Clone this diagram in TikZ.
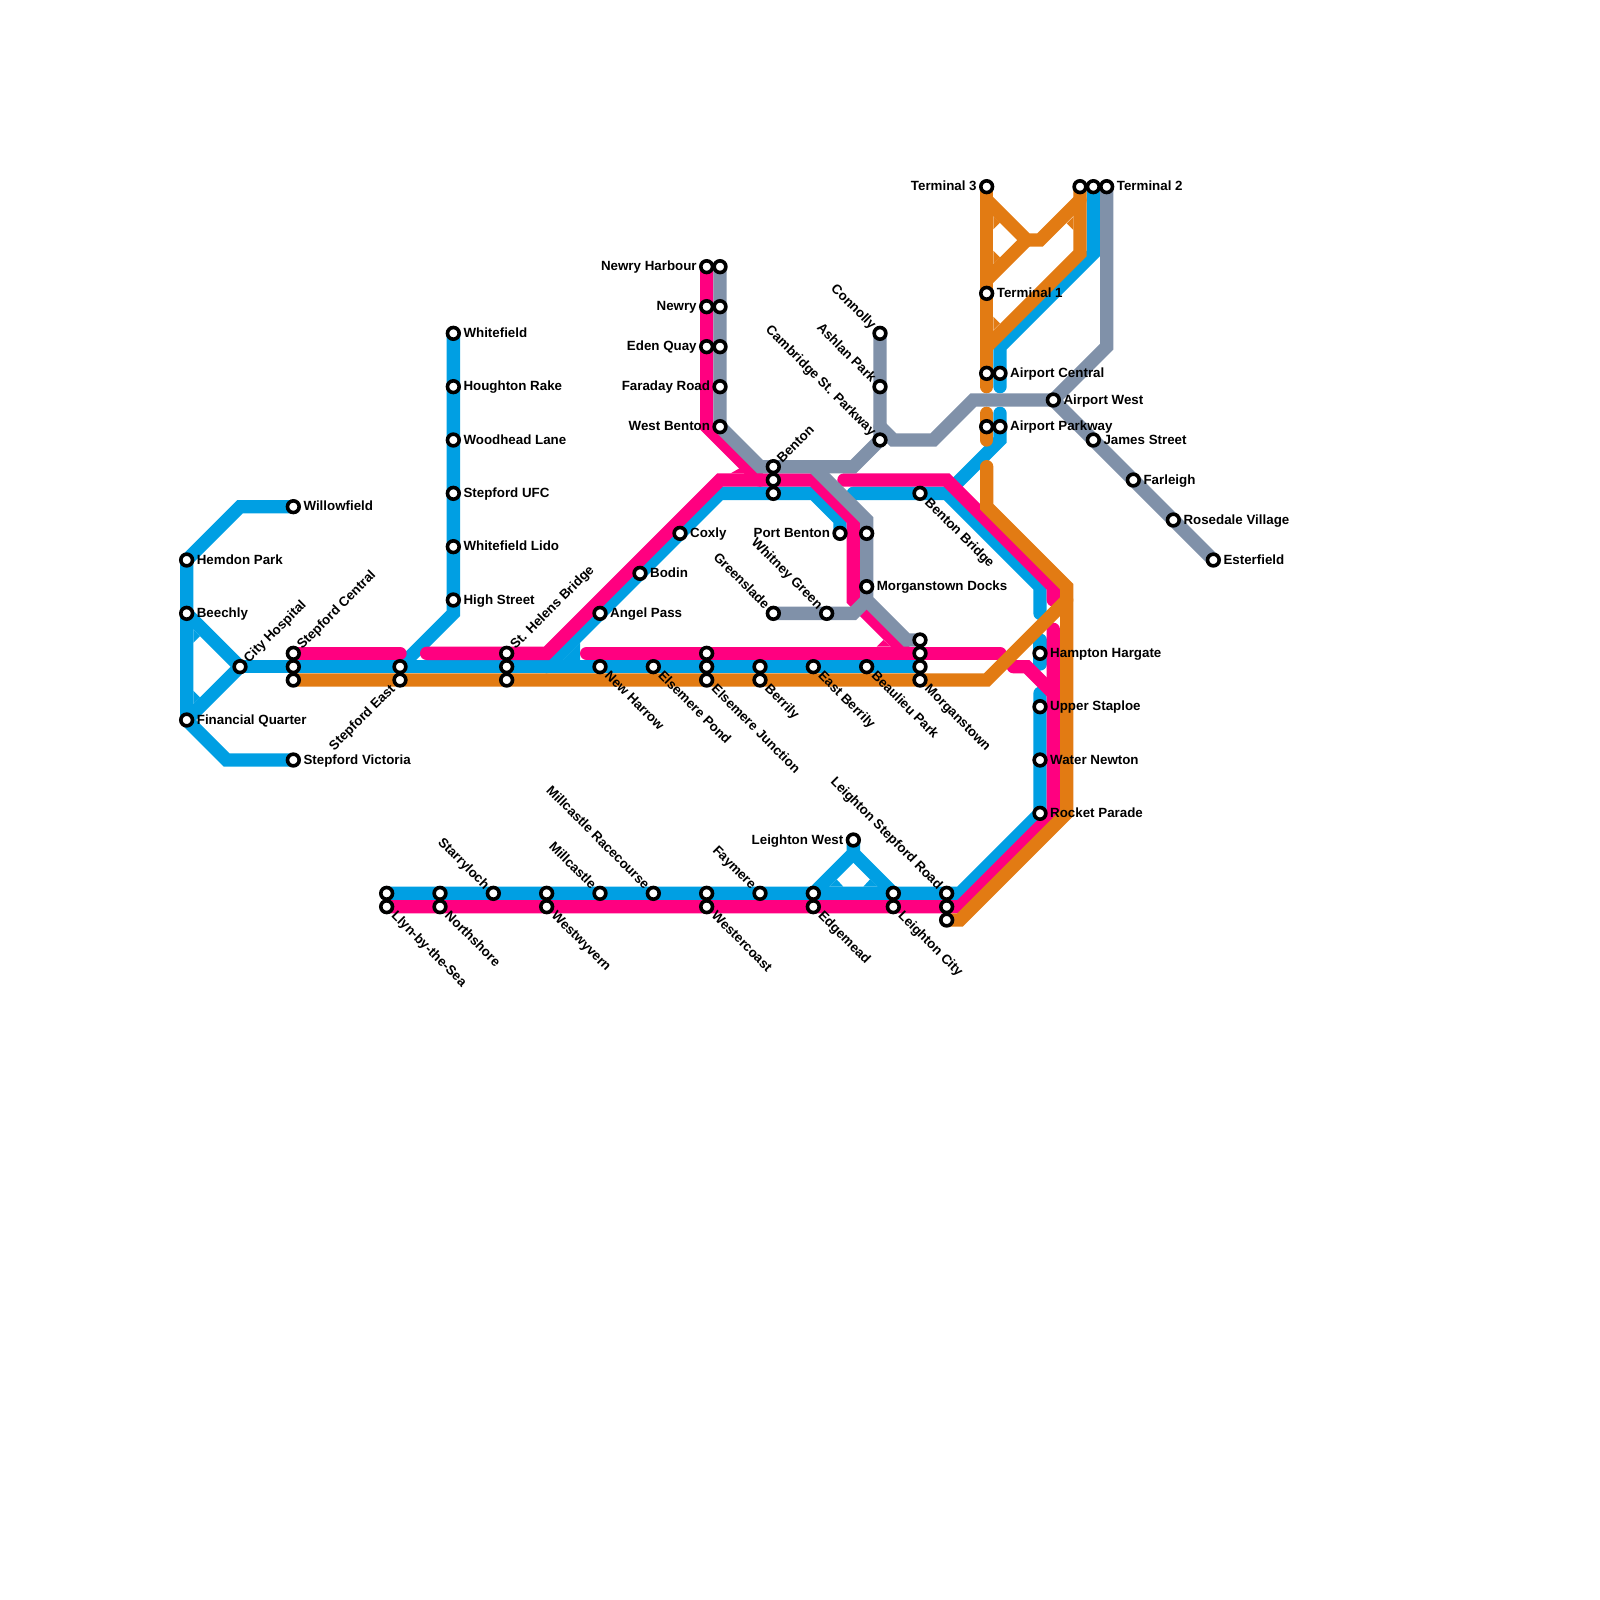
\documentclass[tikz,border=0pt]{standalone}
\usepackage{fontspec}
\setmainfont{Liberation Sans}
\usetikzlibrary{backgrounds}
\definecolor{lineblue}{HTML}{009FE3}
\definecolor{linepink}{HTML}{FF0080}
\definecolor{lineorange}{HTML}{E27B13}
\definecolor{linegrey}{HTML}{8091A9}

\begin{document}
\begin{tikzpicture}[x=6.6667pt, y=-6.6667pt,
    stn/.style={draw=black, fill=white, circle, line width=1.8pt, minimum size=5.85pt, inner sep=0pt},
    lbl/.style={font=\fontsize{6.67}{8}\selectfont\bfseries, inner sep=0pt, text height=4pt, text depth=0pt},
    lr/.style={lbl, anchor=west, xshift=4.9pt},
    ll/.style={lbl, anchor=east, xshift=-4.8pt},
    lur/.style={lbl, rotate=45, anchor=west, xshift=4.2pt},
    ldl/.style={lbl, rotate=45, anchor=east, xshift=-4.8pt},
    lul/.style={lbl, rotate=-45, anchor=east, xshift=-4.3pt},
    ldr/.style={lbl, rotate=-45, anchor=west, xshift=4.8pt},
    track/.style={line width=6.6667pt, line cap=round, line join=miter},
    blueline/.style={track, draw=lineblue},
    pinkline/.style={track, draw=linepink},
    orangeline/.style={track, draw=lineorange},
    greyline/.style={track, draw=linegrey}]

    \useasboundingbox (0,0) rectangle (120,120);

    % West
    \node[stn] (willow) at (22,38) {};
    \node[stn] (hemdon) at (14,42) {};
    \node[stn] (beechly) at (14,46) {};
    \node[stn] (cityhosp) at (18,50) {};
    \node[stn] (finquart) at (14,54) {};
    \node[stn] (stepvic) at (22,57) {};
    \node[lr] (willowl) at (willow) {Willowfield};
    \node[lr] (hemdonl) at (hemdon) {Hemdon Park};
    \node[lr] (beechlyl) at (beechly) {Beechly};
    \node[lur] (cityhospl) at (cityhosp) {City Hospital};
    \node[lr] (finquartl) at (finquart) {Financial Quarter};
    \node[lr] (stepvicl) at (stepvic) {Stepford Victoria};

    % Main street
    \node[stn] (stepcena) at (22,49) {};
    \node[stn] (stepcenb) at (22,50) {};
    \node[stn] (stepcenc) at (22,51) {};
    \node[stn] (stepeasta) at (30,50) {};
    \node[stn] (stepeastb) at (30,51) {};
    \node[stn] (helensa) at (38,49) {};
    \node[stn] (helensb) at (38,50) {};
    \node[stn] (helensc) at (38,51) {};
    \node[stn] (harrow) at (45,50) {};
    \node[stn] (elspond) at (49,50) {};
    \node[stn] (elsjunca) at (53,49) {};
    \node[stn] (elsjuncb) at (53,50) {};
    \node[stn] (elsjuncc) at (53,51) {};
    \node[stn] (berrilya) at (57,50) {};
    \node[stn] (berrilyb) at (57,51) {};
    \node[stn] (eastberrily) at (61,50) {};
    \node[stn] (beaulieu) at (65,50) {};
    \node[stn] (morgana) at (69,48) {};
    \node[stn] (morganb) at (69,49) {};
    \node[stn] (morganc) at (69,50) {};
    \node[stn] (morgand) at (69,51) {};
    \node[lur] (stepcenl) at (stepcena) {Stepford Central};
    \node[ldl] (stepeastl) at (stepeastb) {Stepford East};
    \node[lur] (helensl) at (helensa) {St. Helens Bridge};
    \node[ldr] (harrowl) at (harrow) {New Harrow};
    \node[ldr] (elspondl) at (elspond) {Elsemere Pond};
    \node[ldr] (elsjuncl) at (elsjuncc) {Elsemere Junction};
    \node[ldr] (berrilyl) at (berrilyb) {Berrily};
    \node[ldr] (eastberrilyl) at (eastberrily) {East Berrily};
    \node[ldr] (beaulieul) at (beaulieu) {Beaulieu Park};
    \node[ldr] (morganl) at (morgand) {Morganstown};

    % Whitefield branch
    \node[stn] (whitefield) at (34,25) {};
    \node[stn] (houghton) at (34,29) {};
    \node[stn] (woodhead) at (34,33) {};
    \node[stn] (stepufc) at (34,37) {};
    \node[stn] (whitelido) at (34,41) {};
    \node[stn] (highst) at (34,45) {};
    \node[lr] (whitefieldl) at (whitefield) {Whitefield};
    \node[lr] (houghtonl) at (houghton) {Houghton Rake};
    \node[lr] (woodheadl) at (woodhead) {Woodhead Lane};
    \node[lr] (stepufcl) at (stepufc) {Stepford UFC};
    \node[lr] (whitelidol) at (whitelido) {Whitefield Lido};
    \node[lr] (highstl) at (highst) {High Street};

    % Diagonal to Benton
    \node[stn] (angel) at (45,46) {};
    \node[stn] (bodin) at (48,43) {};
    \node[stn] (coxly) at (51,40) {};
    \node[stn] (bentona) at (58,35) {};
    \node[stn] (bentonb) at (58,36) {};
    \node[stn] (bentonc) at (58,37) {};
    \node[lr] (angell) at (angel) {Angel Pass};
    \node[lr] (bodinl) at (bodin) {Bodin};
    \node[lr] (coxlyl) at (coxly) {Coxly};
    \node[lur] (bentonl) at (bentona) {Benton};

    % Newry
    \node[stn] (harboura) at (53,20) {};
    \node[stn] (harbourb) at (54,20) {};
    \node[stn] (newrya) at (53,23) {};
    \node[stn] (newryb) at (54,23) {};
    \node[stn] (edena) at (53,26) {};
    \node[stn] (edenb) at (54,26) {};
    \node[stn] (faraday) at (54,29) {};
    \node[stn] (westbenton) at (54,32) {};
    \node[ll] (harbourl) at (harboura) {Newry Harbour};
    \node[ll] (newryl) at (newrya) {Newry};
    \node[ll] (edenl) at (edena) {Eden Quay};
    \node[ll] (faradayl) at (faraday) {Faraday Road};
    \node[ll] (westbentonl) at (westbenton) {West Benton};

    % Connolly and docks
    \node[stn] (connolly) at (66,25) {};
    \node[stn] (ashlan) at (66,29) {};
    \node[stn] (cambridge) at (66,33) {};
    \node[stn] (portbenton) at (63,40) {};
    \node[stn] (docksnorth) at (65,40) {};
    \node[stn] (docks) at (65,44) {};
    \node[stn] (greenslade) at (58,46) {};
    \node[stn] (whitney) at (62,46) {};
    \node[stn] (bentonbr) at (69,37) {};
    \node[lul] (connollyl) at (connolly) {Connolly};
    \node[lul] (ashlanl) at (ashlan) {Ashlan Park};
    \node[lul] (cambridgel) at (cambridge) {Cambridge St. Parkway};
    \node[ll] (portbentonl) at (portbenton) {Port Benton};
    \node[lr] (docksl) at (docks) {Morganstown Docks};
    \node[lul] (greensladel) at (greenslade) {Greenslade};
    \node[lul] (whitneyl) at (whitney) {Whitney Green};
    \node[ldr] (bentonbrl) at (bentonbr) {Benton Bridge};

    % Airport
    \node[stn] (termthree) at (74,14) {};
    \node[stn] (termone) at (74,22) {};
    \node[stn] (centrala) at (74,28) {};
    \node[stn] (centralb) at (75,28) {};
    \node[stn] (parkwaya) at (74,32) {};
    \node[stn] (parkwayb) at (75,32) {};
    \node[stn] (termtwoa) at (81,14) {};
    \node[stn] (termtwob) at (82,14) {};
    \node[stn] (termtwoc) at (83,14) {};
    \node[stn] (airwest) at (79,30) {};
    \node[stn] (james) at (82,33) {};
    \node[stn] (farleigh) at (85,36) {};
    \node[stn] (rosedale) at (88,39) {};
    \node[stn] (esterfield) at (91,42) {};
    \node[ll] (termthreel) at (termthree) {Terminal 3};
    \node[lr] (termonel) at (termone) {Terminal 1};
    \node[lr] (centrall) at (centralb) {Airport Central};
    \node[lr] (parkwayl) at (parkwayb) {Airport Parkway};
    \node[lr] (termtwol) at (termtwoc) {Terminal 2};
    \node[lr] (airwestl) at (airwest) {Airport West};
    \node[lr] (jamesl) at (james) {James Street};
    \node[lr] (farleighl) at (farleigh) {Farleigh};
    \node[lr] (rosedalel) at (rosedale) {Rosedale Village};
    \node[lr] (esterfieldl) at (esterfield) {Esterfield};

    % East side
    \node[stn] (hampton) at (78,49) {};
    \node[stn] (staploe) at (78,53) {};
    \node[stn] (newton) at (78,57) {};
    \node[stn] (rocket) at (78,61) {};
    \node[lr] (hamptonl) at (hampton) {Hampton Hargate};
    \node[lr] (staploel) at (staploe) {Upper Staploe};
    \node[lr] (newtonl) at (newton) {Water Newton};
    \node[lr] (rocketl) at (rocket) {Rocket Parade};

    % South
    \node[stn] (llyna) at (29,67) {};
    \node[stn] (llynb) at (29,68) {};
    \node[stn] (northa) at (33,67) {};
    \node[stn] (northb) at (33,68) {};
    \node[stn] (starry) at (37,67) {};
    \node[stn] (wyverna) at (41,67) {};
    \node[stn] (wyvernb) at (41,68) {};
    \node[stn] (millcastle) at (45,67) {};
    \node[stn] (racecourse) at (49,67) {};
    \node[stn] (coasta) at (53,67) {};
    \node[stn] (coastb) at (53,68) {};
    \node[stn] (faymere) at (57,67) {};
    \node[stn] (edgea) at (61,67) {};
    \node[stn] (edgeb) at (61,68) {};
    \node[stn] (leighwest) at (64,63) {};
    \node[stn] (leighcitya) at (67,67) {};
    \node[stn] (leighcityb) at (67,68) {};
    \node[stn] (leighstepa) at (71,67) {};
    \node[stn] (leighstepb) at (71,68) {};
    \node[stn] (leighstepc) at (71,69) {};
    \node[ldr] (llynl) at (llynb) {Llyn-by-the-Sea};
    \node[ldr] (northl) at (northb) {Northshore};
    \node[lul] (starryl) at (starry) {Starryloch};
    \node[ldr] (wyvernl) at (wyvernb) {Westwyvern};
    \node[lul] (millcastlel) at (millcastle) {Millcastle};
    \node[lul] (racecoursel) at (racecourse) {Millcastle Racecourse};
    \node[ldr] (coastl) at (coastb) {Westercoast};
    \node[lul] (faymerel) at (faymere) {Faymere};
    \node[ldr] (edgel) at (edgeb) {Edgemead};
    \node[ll] (leighwestl) at (leighwest) {Leighton West};
    \node[ldr] (leighcityl) at (leighcityb) {Leighton City};
    \node[lul] (leighstepl) at (leighstepa) {Leighton Stepford Road};

    % Free line ends
    \coordinate (pinkwest) at (30,49);
    \coordinate (pinkmid) at (32,49);
    \coordinate (pinkmain) at (44,49);
    \coordinate (pinkmainend) at (75,49);
    \coordinate (pinkdocks) at (64,45);
    \coordinate (pinkbenton) at (63.3,36);
    \coordinate (pinkeast) at (79,45);
    \coordinate (pinkhook) at (76,50);
    \coordinate (pinktip) at (79,47.2);
    \coordinate (bluejoin) at (41,50);
    \coordinate (blueeast) at (64,37);
    \coordinate (blueeastend) at (78,46);
    \coordinate (bluemida) at (78,48);
    \coordinate (bluemidb) at (78,49.8);
    \coordinate (bluelow) at (78,52);
    \coordinate (blueparkway) at (75,31);
    \coordinate (bluecentral) at (75,29);
    \coordinate (orangecentral) at (74,29);
    \coordinate (orangeparka) at (74,31);
    \coordinate (orangeparkb) at (74,33);
    \coordinate (orangeeast) at (74,35);

    \begin{scope}[on background layer]
        % Blue
        \draw[blueline] (willow.center) -- (18,38) -- (hemdon.center) -- (finquart.center) -- (17,57) -- (stepvic.center);
        \draw[blueline] (beechly.center) -- (cityhosp.center) -- (finquart.center);
        \draw[blueline] (cityhosp.center) -- (morganc.center);
        \draw[blueline] (stepeasta.center) -- (34,46) -- (whitefield.center);
        \draw[blueline] (bluejoin) -- (54,37) -- (61,37) -- (63,39) -- (portbenton.center);
        \draw[blueline] (blueeast) -- (71,37) -- (78,44) -- (blueeastend);
        \draw[blueline] (71,37) -- (75,33) -- (blueparkway);
        \draw[blueline] (bluemida) -- (bluemidb);
        \draw[blueline] (bluelow) -- (rocket.center) -- (72,67) -- (llyna.center);
        \draw[blueline] (bluecentral) -- (75,26) -- (82,19) -- (termtwob.center);
        \draw[blueline] (edgea.center) -- (64,64) -- (leighwest.center);
        \draw[blueline] (64,64) -- (leighcitya.center);
        \fill[lineblue] (14.5,47.2) -- (15,47.7) -- (14.5,48.2) -- cycle;
        \fill[lineblue] (14.5,51.8) -- (15,52.3) -- (14.5,52.8) -- cycle;
        \fill[lineblue] (62.2,66.5) -- (62.75,65.95) -- (63.25,66.5) -- cycle;
        \fill[lineblue] (64.75,66.5) -- (65.25,65.95) -- (65.8,66.5) -- cycle;
        \fill[lineblue] (42,49.7) -- (43.5,48.2) -- (43.5,49.6) -- cycle;

        % Pink
        \draw[pinkline] (stepcena.center) -- (pinkwest);
        \draw[pinkline] (pinkmid) -- (41,49) -- (54,36) -- (61,36) -- (64,39) -- (pinkdocks) -- (68,49);
        \draw[pinkline] (harboura.center) -- (53,32) -- (57,36);
        \draw[pinkline] (pinkmain) -- (pinkmainend);
        \draw[pinkline] (pinkbenton) -- (71,36) -- (79,44) -- (pinkeast);
        \draw[pinkline] (pinkhook) -- (77,50) -- (79,52);
        \draw[pinkline] (pinktip) -- (79,61) -- (72,68) -- (llynb.center);
        \fill[linepink] (54.8,35.5) -- (55.5,35.1) -- (55.9,35.5) -- cycle;
        \fill[linepink] (65.75,48.5) -- (66.25,48) -- (66.8,48.5) -- cycle;

        % Orange
        \draw[orangeline] (stepcenc.center) -- (74,51) -- (80,45);
        \draw[orangeline] (orangeeast) -- (74,38) -- (80,44) -- (80,61) -- (72,69) -- (leighstepc.center);
        \draw[orangeline] (termthree.center) -- (orangecentral);
        \draw[orangeline] (orangeparka) -- (orangeparkb);
        \draw[orangeline] (74,15) -- (77,18) -- (78,18) -- (81,15);
        \draw[orangeline] (77,18) -- (74,21);
        \draw[orangeline] (termtwoa.center) -- (81,19) -- (74,26);
        \fill[lineorange] (74.5,16.2) -- (75,16.7) -- (74.5,17.2) -- cycle;
        \fill[lineorange] (74.5,18.8) -- (75,19.3) -- (74.5,19.8) -- cycle;
        \fill[lineorange] (74.5,23.75) -- (75,24.25) -- (74.5,24.75) -- cycle;
        \fill[lineorange] (80.5,16.25) -- (80,16.75) -- (80.5,17.25) -- cycle;

        % Grey
        \draw[greyline] (harbourb.center) -- (54,32) -- (57,35) -- (64,35) -- (cambridge.center) -- (connolly.center);
        \draw[greyline] (66,32) -- (67,33) -- (70,33) -- (73,30) -- (79,30) -- (83,26) -- (termtwoc.center);
        \draw[greyline] (airwest.center) -- (esterfield.center);
        \draw[greyline] (61,35) -- (65,39) -- (65,45) -- (68,48) -- (morgana.center);
        \draw[greyline] (greenslade.center) -- (64,46) -- (65,45);
    \end{scope}

\end{tikzpicture}
\end{document}
